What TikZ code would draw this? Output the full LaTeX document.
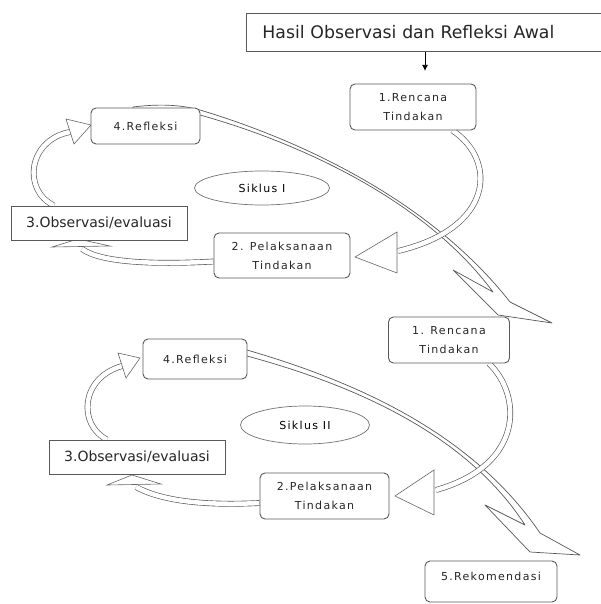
\documentclass[tikz,border=0pt]{standalone}
\usepackage{fontspec}
\usetikzlibrary{shapes.geometric,arrows.meta}
\newfontfamily\labfont[LetterSpace=12]{DejaVu Sans}
\newfontfamily\dvfont{DejaVu Sans}
\pgfdeclarelayer{back}
\pgfsetlayers{back,main}
\begin{document}
\begin{tikzpicture}[x=1pt,y=-1pt,
 box/.style={draw=black!65, line width=0.9pt, fill=white, inner sep=0pt, text=black!85},
 rbox/.style={box, rounded corners=5pt},
 lab/.style={font=\labfont\fontsize{11}{19}\selectfont, align=center},
 obs/.style={font=\dvfont\fontsize{14}{16}\selectfont},
 shaft/.style={draw=black!65, line width=0.65pt, double=white, double distance=4.5pt},
 head/.style={draw=black!60, line width=0.6pt, fill=white, line join=miter},
 longarr/.style={draw=black!65, line width=0.7pt, fill=white, line join=round},
 oval/.style={ellipse, draw=black!55, line width=0.7pt, fill=white, inner sep=0pt}
]
\useasboundingbox (0,0) rectangle (601,604);

% nodes
\node[box, anchor=north west, minimum height=38, text width=325, inner xsep=16,
      align=left, font=\dvfont\fontsize{17.3}{20}\selectfont] (title) at (246,13)
      {Hasil Observasi dan Refleksi Awal};

\node[rbox, lab, minimum width=126, minimum height=46] (r1) at (413,107) {1.Rencana\\Tindakan};
\node[rbox, lab, minimum width=109, minimum height=36] (f1) at (145.5,126) {4.Refleksi};
\node[oval, lab, minimum width=135, minimum height=34] (s1) at (262,188) {Siklus I};
\node[box, obs, minimum width=176, minimum height=34] (o1) at (99,223) {3.Observasi/evaluasi};
\node[rbox, lab, minimum width=136, minimum height=45] (p1) at (282,255.5) {2. Pelaksanaan\\Tindakan};

\node[rbox, lab, minimum width=121, minimum height=46] (r2) at (449,340) {1. Rencana\\Tindakan};
\node[rbox, lab, minimum width=104, minimum height=40] (f2) at (195,359) {4.Refleksi};
\node[oval, lab, minimum width=129, minimum height=38] (s2) at (305,425) {Siklus II};
\node[box, obs, minimum width=176, minimum height=34] (o2) at (137,457) {3.Observasi/evaluasi};
\node[rbox, lab, minimum width=129, minimum height=46] (p2) at (324.5,496) {2.Pelaksanaan\\Tindakan};

\node[rbox, lab, minimum width=132, minimum height=41, text height=8pt, text depth=11pt] (k) at (491,581.5) {5.Rekomendasi};

\begin{pgfonlayer}{back}
% title -> r1
\draw[black, line width=0.8pt, -{Latex[length=6pt,width=6pt]}] (title.south -| r1.north) ++(12,0) -- ++(0,19);

% long arrow cycle 1 (4.Refleksi -> 1.Rencana II)
\draw[longarr] (133,107) .. controls (165,103) and (185,106) .. (200,110)
  .. controls (300,140) and (430,200) .. (510,302)
  -- (552,323) -- (498,315) -- (453,270) -- (493,292)
  .. controls (425,200) and (300,143) .. (200,115)
  .. controls (185,111) and (160,110) .. (133,110) -- cycle;

% long arrow cycle 2 (4.Refleksi -> 5.Rekomendasi)
\draw[longarr] (230,349) -- (247,350) .. controls (350,380) and (470,430) .. (540,533)
  -- (580,555) -- (530,552) -- (485,505) -- (525,525)
  .. controls (465,432) and (350,384) .. (247,356) -- (230,356) -- cycle;

% cycle 1 arrows
\draw[shaft] ([xshift=-24pt]r1.south east) .. controls (497,160) and (495,228) .. (398,251);
\draw[head] (397,232) -- (355,257) -- (397,273) -- cycle;

\draw[shaft] ([xshift=-45pt]o1.north) .. controls (22,190) and (28,140) .. (70,132);
\draw[head] (66,119) -- (91,125) -- (74,144) -- cycle;

\draw[shaft] ([yshift=-6pt]p1.west) .. controls (150,265) and (100,262) .. (82,249);
\draw[head] (52,247) -- (78,239) -- (110,246) -- cycle;

% cycle 2 arrows
\draw[shaft] ([xshift=-21pt]r2.south east) .. controls (522,395) and (525,465) .. (436,490);
\draw[head] (434,470) -- (395,496) -- (434,515) -- cycle;

\draw[shaft] ([xshift=-30pt]o2.north) .. controls (78,425) and (80,378) .. (122,366);
\draw[head] (118,353) -- (140,358) -- (126,378) -- cycle;

\draw[shaft] ([yshift=-7pt]p2.west) .. controls (200,506) and (160,500) .. (136,487);
\draw[head] (107,485) -- (132,475) -- (161,484) -- cycle;
\end{pgfonlayer}
\end{tikzpicture}
\end{document}
